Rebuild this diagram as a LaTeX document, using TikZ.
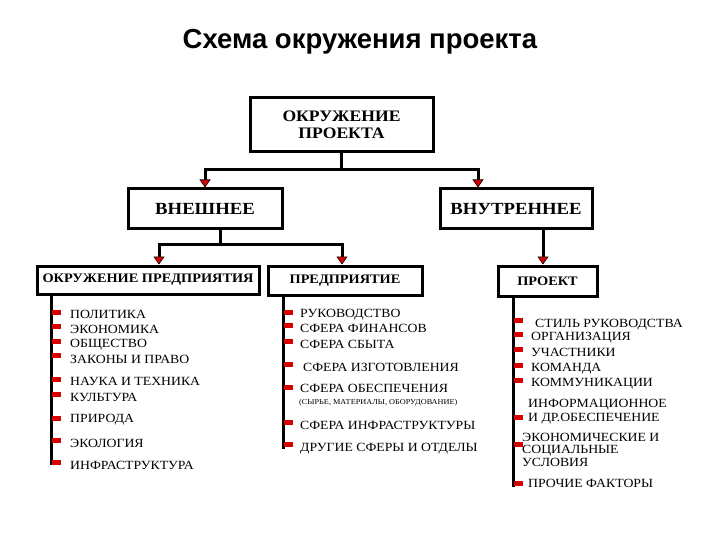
\documentclass[tikz,border=0pt]{standalone}
\usepackage{fontspec}
\setmainfont{Liberation Serif}
\newfontfamily\titlef{Liberation Sans}
\newfontfamily\itemf[FakeStretch=1.1]{Liberation Serif}
\newfontfamily\labf[FakeStretch=1.1]{Liberation Serif}
\usetikzlibrary{arrows.meta}
\tikzset{
  box/.style={draw, line width=3pt, inner sep=0pt, align=center, font=\labf\bfseries},
  conn/.style={line width=3pt},
  arr/.style={conn, -{Triangle[width=11pt,length=8pt,line width=0.6pt,fill=red!85!black]}},
  item/.style={anchor=base west, inner sep=0pt, align=left, font=\itemf\fontsize{12.5}{13.5}\selectfont},
  bul/.style={fill=red!85!black}
}
\begin{document}
\begin{tikzpicture}[x=1pt,y=-1pt]
\fill[white] (0,0) rectangle (720,540);
\useasboundingbox (0,0) rectangle (720,540);

\node[font=\titlef\bfseries\fontsize{27.5}{31}\selectfont] (title) at (360,42) {Схема окружения проекта};

% boxes
\node[box, minimum width=183pt, minimum height=54pt, font=\labf\bfseries\fontsize{16}{17}\selectfont] (top) at (341.5,125) {ОКРУЖЕНИЕ\\ПРОЕКТА};
\node[box, minimum width=154pt, minimum height=40pt, font=\labf\bfseries\fontsize{17}{18}\selectfont] (ext) at (205,209) {ВНЕШНЕЕ};
\node[box, minimum width=152pt, minimum height=40pt, font=\labf\bfseries\fontsize{17}{18}\selectfont] (int) at (516,209) {ВНУТРЕННЕЕ};
\node[box, minimum width=222pt, minimum height=28pt, font=\labf\bfseries\fontsize{13}{14}\selectfont] (env) at (148,280) {ОКРУЖЕНИЕ ПРЕДПРИЯТИЯ};
\node[box, minimum width=154pt, minimum height=29pt, font=\labf\bfseries\fontsize{13}{14}\selectfont] (ent) at (345,280.5) {ПРЕДПРИЯТИЕ};
\node[box, minimum width=99pt, minimum height=30pt, font=\labf\bfseries\fontsize{13}{14}\selectfont] (proj) at (547.5,281) {ПРОЕКТ};

% tree connectors
\draw[conn] (top.south) -- ++(0,16) coordinate (j1);
\draw[arr] (j1) -| (ext.north);
\draw[arr] (j1) -| ([xshift=-38pt]int.north);
\draw[conn] ([xshift=15pt]ext.south) -- ++(0,14) coordinate (j2);
\draw[arr] (j2) -| ([xshift=11pt]env.north);
\draw[arr] (j2) -| ([xshift=-3pt]ent.north);
\draw[arr] ([xshift=27pt]int.south) -- ([xshift=27pt]int.south |- proj.north);

% bullet lines
\draw[conn] ([xshift=16pt]env.south west) -- ++(0,169);
\draw[conn] ([xshift=17pt]ent.south west) -- ++(0,152);
\draw[conn] ([xshift=17pt]proj.south west) -- ++(0,189);

% bullets
\foreach \y in {312,326,341,355,379,394,418,440,462} \fill[bul] (52,\y-2.5) rectangle ++(9,5);
\foreach \y in {312,325,341,364,387,422,444} \fill[bul] (284,\y-2.5) rectangle ++(9,5);
\foreach \y in {320,334,349,365,380,417,444,483} \fill[bul] (514,\y-2.5) rectangle ++(9,5);

% left items
\node[item] (l1) at (70,318) {ПОЛИТИКА};
\node[item] (l2) at (70,333) {ЭКОНОМИКА};
\node[item] (l3) at (70,347) {ОБЩЕСТВО};
\node[item] (l4) at (70,363) {ЗАКОНЫ И ПРАВО};
\node[item] (l5) at (70,385) {НАУКА И ТЕХНИКА};
\node[item] (l6) at (70,401) {КУЛЬТУРА};
\node[item] (l7) at (70,422) {ПРИРОДА};
\node[item] (l8) at (70,447) {ЭКОЛОГИЯ};
\node[item] (l9) at (70,469) {ИНФРАСТРУКТУРА};

% middle items
\node[item] (m1) at (300,317) {РУКОВОДСТВО};
\node[item] (m2) at (300,332) {СФЕРА ФИНАНСОВ};
\node[item] (m3) at (300,348) {СФЕРА СБЫТА};
\node[item] (m4) at (303,371) {СФЕРА ИЗГОТОВЛЕНИЯ};
\node[item] (m5) at (300,392) {СФЕРА ОБЕСПЕЧЕНИЯ};
\node[item, font=\itemf\fontsize{7.5}{8}\selectfont] (m6) at (299,404) {(СЫРЬЕ, МАТЕРИАЛЫ, ОБОРУДОВАНИЕ)};
\node[item] (m7) at (300,429) {СФЕРА ИНФРАСТРУКТУРЫ};
\node[item] (m8) at (300,451) {ДРУГИЕ СФЕРЫ И ОТДЕЛЫ};

% right items
\node[item] (r1) at (535,327) {СТИЛЬ РУКОВОДСТВА};
\node[item] (r2) at (531,340) {ОРГАНИЗАЦИЯ};
\node[item] (r3) at (531,356) {УЧАСТНИКИ};
\node[item] (r4) at (531,371) {КОМАНДА};
\node[item] (r5) at (531,386) {КОММУНИКАЦИИ};
\node[item, font=\itemf\fontsize{12.5}{14}\selectfont] (r6) at (528,421) {ИНФОРМАЦИОННОЕ\\И ДР.ОБЕСПЕЧЕНИЕ};
\node[item, font=\itemf\fontsize{12.5}{12.5}\selectfont] (r7) at (522,466) {ЭКОНОМИЧЕСКИЕ И\\СОЦИАЛЬНЫЕ\\УСЛОВИЯ};
\node[item] (r8) at (528,487) {ПРОЧИЕ ФАКТОРЫ};
\end{tikzpicture}
\end{document}
